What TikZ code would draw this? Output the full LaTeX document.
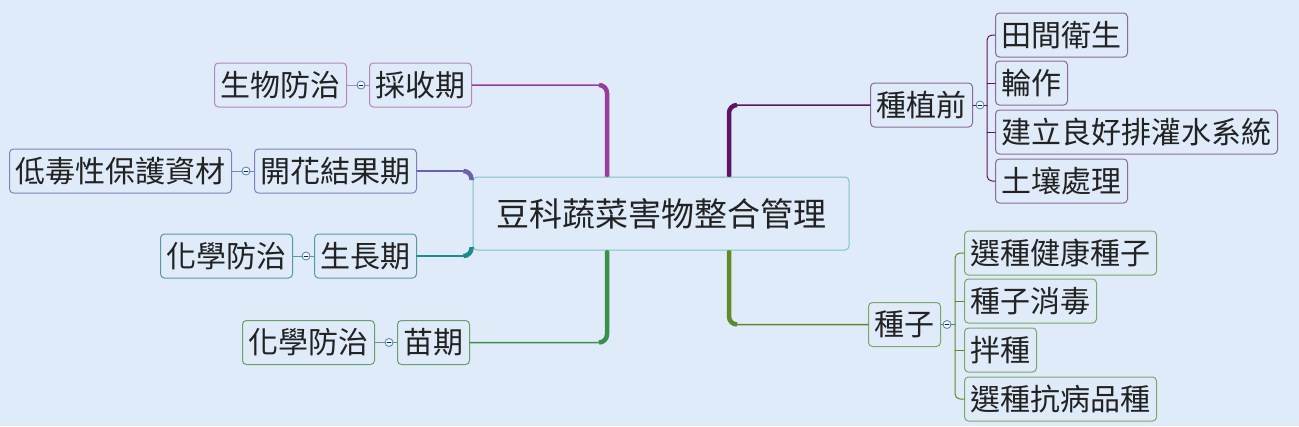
\documentclass[tikz,border=0pt]{standalone}
\usepackage{fontspec}
\newfontfamily\cjk{Noto Sans CJK TC}
\usetikzlibrary{positioning}

\definecolor{bgblue}{HTML}{DFEBF8}
\definecolor{inkgray}{HTML}{222222}
\definecolor{rootline}{HTML}{7CC4C4}
\definecolor{harvestbr}{HTML}{9A3A9A}
\definecolor{harvestbox}{HTML}{B486BC}
\definecolor{flowerbr}{HTML}{6A5FB0}
\definecolor{flowerbox}{HTML}{8080C0}
\definecolor{growbr}{HTML}{1F8A8A}
\definecolor{growbox}{HTML}{5A9A9A}
\definecolor{seedlingbr}{HTML}{3A8F4A}
\definecolor{seedlingbox}{HTML}{6AA070}
\definecolor{plantbr}{HTML}{5E1462}
\definecolor{plantbox}{HTML}{8A6A96}
\definecolor{seedbr}{HTML}{5E8A2A}
\definecolor{seedbox}{HTML}{7AA86A}
\definecolor{knobline}{HTML}{4A7FC0}

\begin{document}
\begin{tikzpicture}[x=1pt, y=-1pt, line cap=round, line join=round,
  box/.style={draw, rounded corners=4pt, line width=1pt, fill=bgblue,
    inner xsep=6pt, inner ysep=0pt, minimum height=44pt, text=inkgray,
    font=\cjk\fontsize{30}{32}\selectfont},
  rootbox/.style={box, draw=rootline, minimum width=376pt, minimum height=73pt,
    font=\cjk\fontsize{33}{36}\selectfont},
  limb/.style={line width=1.5pt, rounded corners=8pt},
  stem/.style={line width=4.5pt, rounded corners=8pt, line cap=butt},
  twig/.style={line width=1pt, rounded corners=5pt},
  knob/.style={circle, draw=knobline, fill=white!60!bgblue, line width=0.8pt,
    inner sep=0pt, minimum size=8pt,
    path picture={\draw[inkgray, line width=0.8pt]
      ([xshift=-2pt]path picture bounding box.center) --
      ([xshift=2pt]path picture bounding box.center);}}
]

% ---------------------------
% Canvas (same size as the picture)
% ---------------------------
\fill[bgblue] (0,0) rectangle (1299,426);
\useasboundingbox (0,0) rectangle (1299,426);

% trunk lines
\coordinate (LB) at (607,0);
\coordinate (RB) at (729,0);

% ---------------------------
% Root
% ---------------------------
\node[rootbox] (root) at (661,213.5) {豆科蔬菜害物整合管理};

% ---------------------------
% Left side: growth stages and their measures
% ---------------------------
\node[box, draw=harvestbox, anchor=east] (harvest) at (472,85) {採收期};
\node[box, draw=harvestbox, left=22pt of harvest] (bio) {生物防治};

\node[box, draw=flowerbox, anchor=east] (flower) at (417,171) {開花結果期};
\node[box, draw=flowerbox, left=22pt of flower] (lowtox) {低毒性保護資材};

\node[box, draw=growbox, anchor=east] (growth) at (417,256) {生長期};
\node[box, draw=growbox, left=21pt of growth] (chemA) {化學防治};

\node[box, draw=seedlingbox, anchor=east] (seedling) at (470,342.5) {苗期};
\node[box, draw=seedlingbox, left=22pt of seedling] (chemB) {化學防治};

% ---------------------------
% Right side: before planting and seeds
% ---------------------------
\node[box, draw=plantbox, anchor=west] (plant) at (870,105) {種植前};
\node[box, draw=plantbox, anchor=west] (sanit) at (995,35) {田間衛生};
\node[box, draw=plantbox, below=3pt of sanit.south west, anchor=north west] (rotate) {輪作};
\node[box, draw=plantbox, below=4pt of rotate.south west, anchor=north west] (drain) {建立良好排灌水系統};
\node[box, draw=plantbox, below=4pt of drain.south west, anchor=north west] (soil) {土壤處理};

\node[box, draw=seedbox, anchor=west] (seed) at (868,324.5) {種子};
\node[box, draw=seedbox, anchor=west] (healthy) at (964,253) {選種健康種子};
\node[box, draw=seedbox, below=3pt of healthy.south west, anchor=north west] (disinf) {種子消毒};
\node[box, draw=seedbox, below=4pt of disinf.south west, anchor=north west] (mix) {拌種};
\node[box, draw=seedbox, below=4pt of mix.south west, anchor=north west] (resist) {選種抗病品種};

% ---------------------------
% Branches from the root (thin run, thick bend)
% ---------------------------
\draw[limb, harvestbr] (harvest.east) -- (harvest.east -| LB) -- (root.north -| LB);
\draw[stem, harvestbr] ([xshift=-8pt]harvest.east -| LB) -- (harvest.east -| LB) -- (root.north -| LB);

\draw[limb, seedlingbr] (seedling.east) -- (seedling.east -| LB) -- (root.south -| LB);
\draw[stem, seedlingbr] ([xshift=-8pt]seedling.east -| LB) -- (seedling.east -| LB) -- (root.south -| LB);

\draw[limb, flowerbr] (flower.east) -- ([xshift=-9pt]flower.east -| root.west);
\draw[stem, flowerbr] ([xshift=-9pt]flower.east -| root.west) -- ([xshift=-1pt]flower.east -| root.west) -- ([xshift=-1pt,yshift=-9pt]flower.east -| root.west);

\draw[limb, growbr] (growth.east) -- ([xshift=-9pt]growth.east -| root.west);
\draw[stem, growbr] ([xshift=-9pt]growth.east -| root.west) -- ([xshift=-1pt]growth.east -| root.west) -- ([xshift=-1pt,yshift=9pt]growth.east -| root.west);

\draw[limb, plantbr] (root.north -| RB) -- (plant.west -| RB) -- (plant.west);
\draw[stem, plantbr] (root.north -| RB) -- (plant.west -| RB) -- ([xshift=8pt]plant.west -| RB);

\draw[limb, seedbr] (root.south -| RB) -- (seed.west -| RB) -- (seed.west);
\draw[stem, seedbr] (root.south -| RB) -- (seed.west -| RB) -- ([xshift=8pt]seed.west -| RB);

% ---------------------------
% Leaf links on the left, with collapse knobs
% ---------------------------
\draw[twig, harvestbox] (bio) -- (harvest);
\draw[twig, flowerbox] (lowtox) -- (flower);
\draw[twig, growbox] (chemA) -- (growth);
\draw[twig, seedlingbox] (chemB) -- (seedling);

\node[knob] (kH) at ([xshift=-8pt]harvest.west) {};
\node[knob] (kF) at ([xshift=-8pt]flower.west) {};
\node[knob] (kG) at ([xshift=-8pt]growth.west) {};
\node[knob] (kS) at ([xshift=-8pt]seedling.west) {};

% ---------------------------
% Child spines on the right
% ---------------------------
\coordinate (PS) at ([xshift=14pt]plant.east);
\draw[twig, plantbr] (plant.east) -- (plant.east -| PS);
\draw[twig, plantbr] (sanit.west) -- (sanit.west -| PS) -- (soil.west -| PS) -- (soil.west);
\draw[twig, plantbr] (rotate.west) -- (rotate.west -| PS);
\draw[twig, plantbr] (drain.west) -- (drain.west -| PS);
\node[knob] (kP) at ([xshift=7pt]plant.east) {};

\coordinate (SS) at ([xshift=14pt]seed.east);
\draw[twig, seedbr] (seed.east) -- (seed.east -| SS);
\draw[twig, seedbr] (healthy.west) -- (healthy.west -| SS) -- (resist.west -| SS) -- (resist.west);
\draw[twig, seedbr] (disinf.west) -- (disinf.west -| SS);
\draw[twig, seedbr] (mix.west) -- (mix.west -| SS);
\node[knob] (kD) at ([xshift=6pt]seed.east) {};

\end{tikzpicture}
\end{document}
